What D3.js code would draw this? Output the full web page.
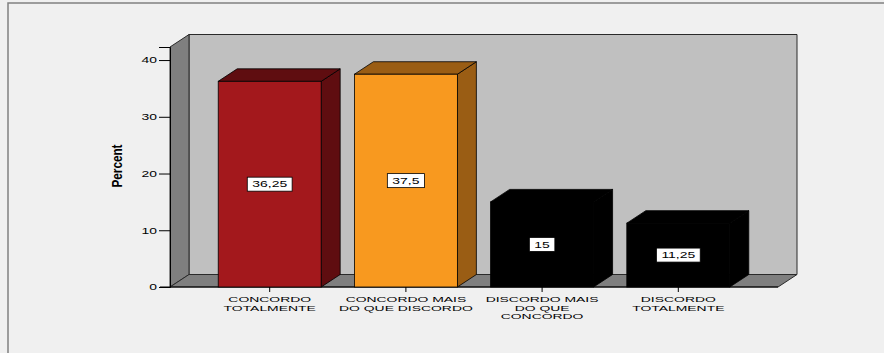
<!DOCTYPE html>
<html>
<head>
<meta charset="utf-8">
<script src="https://cdn.jsdelivr.net/npm/d3@7"></script>
<style>
html,body{margin:0;padding:0;background:#f0f0f0;}
svg{display:block;}
text{font-family:"Liberation Sans",Arial,sans-serif;}
</style>
</head>
<body>
<svg id="chart" width="884" height="353"></svg>
<script>
const categories = [
  ["CONCORDO", "TOTALMENTE"],
  ["CONCORDO MAIS", "DO QUE DISCORDO"],
  ["DISCORDO MAIS", "DO QUE", "CONCORDO"],
  ["DISCORDO", "TOTALMENTE"]
];
const values = [36.25, 37.5, 15, 11.25];
const valueLabels = ["36,25", "37,5", "15", "11,25"];
const frontColors = ["#a3181c", "#f8991f", "#000000", "#000000"];
const sideColors = ["#5f0d10", "#9a5d14", "#000000", "#000000"];
const yTicks = [0, 10, 20, 30, 40];
const yTickLabels = ["0", "10", "20", "30", "40"];
const yTitle = "Percent";

(function() {
const svg = d3.select("#chart");
const pLeft = 170, pRight = 778, pBase = 287, pTop = 47;
const dx = 19, dy = 12.5;
const sx = 1.55; // horizontal stretch of text

// outer frame
svg.append("rect").attr("x", 8).attr("y", 3).attr("width", 1000).attr("height", 500)
  .attr("fill", "#f0f0f0").attr("stroke", "#808080").attr("stroke-width", 1.5);

const y = d3.scaleLinear().domain([0, 42.3]).range([pBase, pTop]);
const x = d3.scaleBand().domain(d3.range(categories.length)).range([pLeft, pRight])
  .paddingInner(0.244).paddingOuter(0.354);

const g = svg.append("g");
const edge = "#2a2a2a";

// back wall
g.append("polygon")
  .attr("points", [[pLeft+dx, pTop-dy],[pRight+dx, pTop-dy],[pRight+dx, pBase-dy],[pLeft+dx, pBase-dy]].join(" "))
  .attr("fill", "#c0c0c0").attr("stroke", edge).attr("stroke-width", 1);
// left wall
g.append("polygon")
  .attr("points", [[pLeft, pBase],[pLeft, pTop],[pLeft+dx, pTop-dy],[pLeft+dx, pBase-dy]].join(" "))
  .attr("fill", "#7f7f7f").attr("stroke", edge).attr("stroke-width", 1);
// floor
g.append("polygon")
  .attr("points", [[pLeft, pBase],[pRight, pBase],[pRight+dx, pBase-dy],[pLeft+dx, pBase-dy]].join(" "))
  .attr("fill", "#7f7f7f").attr("stroke", edge).attr("stroke-width", 1);

// y axis ticks
const yAxis = d3.axisLeft(y).tickValues(yTicks).tickSize(11).tickFormat(() => "");
const ya = svg.append("g").attr("transform", `translate(${pLeft},0)`).call(yAxis);
ya.select(".domain").attr("stroke", "#000");
ya.selectAll(".tick line").attr("stroke", "#000");
svg.append("g").selectAll("text").data(yTicks).join("text")
  .attr("transform", d => `translate(157,${y(d) + 3.3}) scale(${sx},1)`)
  .attr("text-anchor", "end").attr("font-size", 9).attr("fill", "#000")
  .text((d, i) => yTickLabels[i]);

// y title
svg.append("text")
  .attr("transform", "translate(122,166) rotate(-90) scale(0.84,1)")
  .attr("text-anchor", "middle").attr("font-size", 14).attr("font-weight", "bold")
  .attr("fill", "#000").text(yTitle);

// x axis ticks
const xa = svg.append("g");
xa.append("line").attr("x1", pLeft - 10).attr("x2", pRight).attr("y1", pBase).attr("y2", pBase)
  .attr("stroke", "#000").attr("stroke-width", 1);
xa.selectAll("line.t").data(categories).join("line").attr("class", "t")
  .attr("x1", (d, i) => x(i) + x.bandwidth() / 2).attr("x2", (d, i) => x(i) + x.bandwidth() / 2)
  .attr("y1", pBase).attr("y2", pBase + 5).attr("stroke", "#000");

// bars
const bars = svg.append("g").selectAll("g").data(values).join("g");
bars.each(function(v, i) {
  const b = d3.select(this);
  const x0 = x(i), w = x.bandwidth(), yv = y(v);
  b.append("polygon")
    .attr("points", [[x0+w, yv],[x0+w+dx, yv-dy],[x0+w+dx, pBase-dy],[x0+w, pBase]].join(" "))
    .attr("fill", sideColors[i]).attr("stroke", "#000").attr("stroke-width", 0.8);
  b.append("polygon")
    .attr("points", [[x0, yv],[x0+dx, yv-dy],[x0+w+dx, yv-dy],[x0+w, yv]].join(" "))
    .attr("fill", sideColors[i]).attr("stroke", "#000").attr("stroke-width", 0.8);
  b.append("rect").attr("x", x0).attr("y", yv).attr("width", w).attr("height", pBase - yv)
    .attr("fill", frontColors[i]).attr("stroke", "#000").attr("stroke-width", 0.8);
  const cx = x0 + w / 2, cy = y(v / 2);
  const t = b.append("text")
    .attr("transform", `translate(${cx},${cy + 3.3}) scale(${sx},1)`)
    .attr("text-anchor", "middle").attr("font-size", 9).attr("fill", "#000")
    .text(valueLabels[i]);
  const tw = t.node().getComputedTextLength() * sx;
  b.insert("rect", "text")
    .attr("x", cx - tw / 2 - 5).attr("y", cy - 7).attr("width", tw + 10).attr("height", 14)
    .attr("fill", "#fff").attr("stroke", "#000").attr("stroke-width", 0.8);
});

// category labels
const cl = svg.append("g");
const csx = 1.74;
categories.forEach((lines, i) => {
  const cx = x(i) + x.bandwidth() / 2;
  lines.forEach((ln, j) => {
    cl.append("text")
      .attr("transform", `translate(${cx},${302 + j * 8.5}) scale(${csx},1)`)
      .attr("text-anchor", "middle").attr("font-size", 8).attr("fill", "#000")
      .text(ln);
  });
});
})();
</script>
</body>
</html>
